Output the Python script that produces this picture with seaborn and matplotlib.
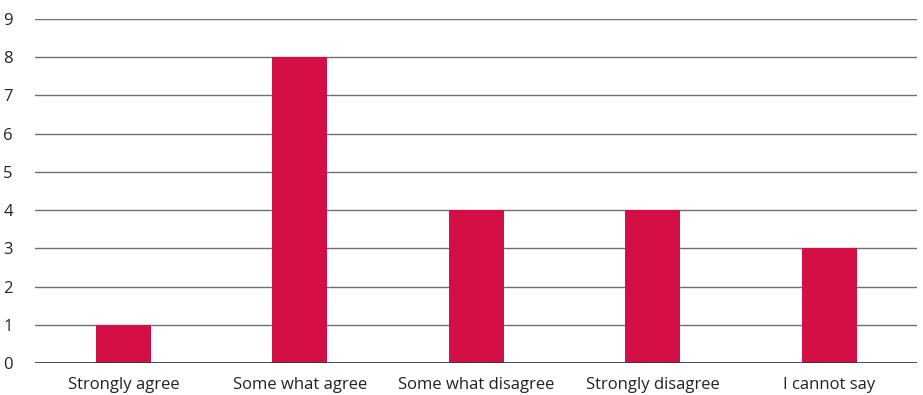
import matplotlib
matplotlib.use("Agg")
import matplotlib.pyplot as plt
import seaborn as sns
import pandas as pd

categories = ["Strongly agree", "Some what agree", "Some what disagree",
              "Strongly disagree", "I cannot say"]
counts = [1, 8, 4, 4, 3]
y_ticks = list(range(0, 10))

sns.set_theme(style="white")
plt.rcParams["font.family"] = ["Open Sans", "DejaVu Sans"]

df = pd.DataFrame({"category": categories, "count": counts})

fig = plt.figure(figsize=(9.23, 3.95), dpi=100)
ax = fig.add_axes([0.038, 0.081, 0.956, 0.871])

sns.barplot(data=df, x="category", y="count", color="#D40F45",
            saturation=1, width=0.31, linewidth=0, ax=ax, zorder=3)

ax.set_xlim(-0.5, len(categories) - 0.5)
ax.set_ylim(0, 9)
ax.set_yticks(y_ticks)
ax.set_yticklabels([str(t) for t in y_ticks])
ax.yaxis.grid(True, color="#6e6e6e", linewidth=1.0, zorder=0)
ax.xaxis.grid(False)
ax.axhline(0, color="#333333", linewidth=1.2, zorder=4)

for side in ["top", "right", "left", "bottom"]:
    ax.spines[side].set_visible(False)

ax.tick_params(axis="y", length=0, pad=16, labelsize=12, labelcolor="#222222")
ax.tick_params(axis="x", length=0, pad=10, labelsize=12, labelcolor="#222222")
ax.set_xlabel("")
ax.set_ylabel("")

fig.savefig("out.png", dpi=100)
